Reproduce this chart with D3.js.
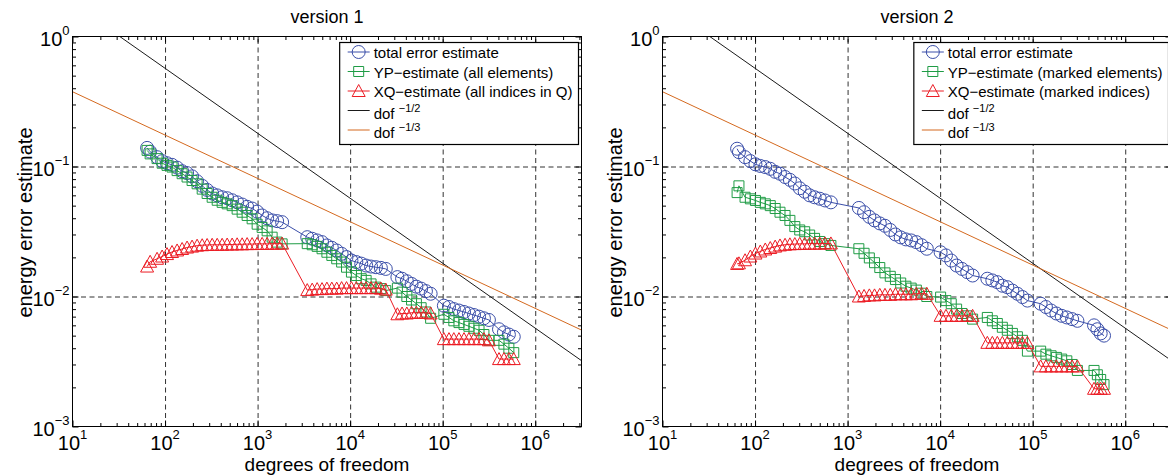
<!DOCTYPE html>
<html>
<head>
<meta charset="utf-8">
<script src="https://cdn.jsdelivr.net/npm/d3@7/dist/d3.min.js"></script>
<style>
  body { margin: 0; background: #fff; }
  svg { display: block; font-family: 'Liberation Sans', Arial, Helvetica, sans-serif; }
</style>
</head>
<body>
<div id="chart"></div>
<script>
// ---- values ----
// version 1
const dof_v1 = [
  64, 69, 82, 93, 105, 119, 135, 153, 173, 196, 222, 252, 285, 323, 366, 414, 469, 531, 601, 681, 771, 873, 989, 1119, 1268, 1436, 1626, 1841,
  3440, 3890, 4400, 4970, 5610, 6340, 7160, 8090, 9140, 10330, 11670, 13180, 14890, 16830, 19010, 21480, 24270,
  32400, 36400, 41000, 46100, 52000, 58500, 65900, 74100,
  103000, 117000, 132000, 150000, 170000, 192000, 218000, 247000, 279000, 316000,
  406000, 459000, 519000, 586000
]
const total_v1 = [
  0.139, 0.130, 0.118, 0.110, 0.106, 0.103, 0.098, 0.092, 0.089, 0.084, 0.077, 0.071, 0.066, 0.062, 0.060, 0.058, 0.057, 0.055, 0.053, 0.051, 0.049, 0.0475, 0.045, 0.042, 0.040, 0.0385, 0.038, 0.0373,
  0.0286, 0.0278, 0.0270, 0.0262, 0.0247, 0.0237, 0.0226, 0.0213, 0.0201, 0.0189, 0.0184, 0.0179, 0.0173, 0.0170, 0.0168, 0.0166, 0.0163,
  0.0141, 0.0137, 0.0131, 0.0125, 0.0119, 0.0115, 0.0110, 0.0105,
  0.0085, 0.0083, 0.0080, 0.0078, 0.0076, 0.0074, 0.0072, 0.0070, 0.0068, 0.0066,
  0.0056, 0.0053, 0.0051, 0.0049
]
const yp_v1 = [
  0.133, 0.125, 0.115, 0.106, 0.102, 0.099, 0.093, 0.088, 0.083, 0.078, 0.0736, 0.067, 0.062, 0.058, 0.055, 0.053, 0.0516, 0.050, 0.047, 0.0445, 0.042, 0.0396, 0.036, 0.034, 0.032, 0.0286, 0.0262, 0.0254,
  0.0255, 0.0250, 0.0243, 0.0233, 0.0219, 0.0207, 0.0195, 0.0184, 0.0168, 0.0154, 0.0145, 0.0137, 0.0133, 0.0125, 0.0118, 0.0115, 0.0111,
  0.0116, 0.0108, 0.0100, 0.0094, 0.0088, 0.0082, 0.0076, 0.0068,
  0.0073, 0.0069, 0.0065, 0.0063, 0.0061, 0.0059, 0.0057, 0.0055, 0.0051, 0.0046,
  0.0046, 0.0043, 0.0040, 0.0037
]
const xq_v1 = [
  0.0170, 0.0185, 0.0195, 0.0203, 0.0212, 0.0220, 0.0226, 0.0232, 0.0238, 0.0242, 0.0246, 0.0248, 0.0249, 0.0250, 0.0250, 0.0250, 0.0251, 0.0251, 0.0252, 0.0252, 0.0253, 0.0253, 0.0254, 0.0254, 0.0254, 0.0255, 0.0255, 0.0255,
  0.0112, 0.0113, 0.0114, 0.0114, 0.0115, 0.0115, 0.0115, 0.0116, 0.0116, 0.0116, 0.0116, 0.0116, 0.0116, 0.0116, 0.0116, 0.0115, 0.0113,
  0.0073, 0.0074, 0.0074, 0.0075, 0.0075, 0.0075, 0.0075, 0.0074,
  0.0047, 0.0047, 0.0047, 0.0047, 0.0047, 0.0047, 0.0047, 0.0047, 0.0047, 0.0046,
  0.0033, 0.0033, 0.0033, 0.0033
]

// version 2
const dof_v2 = [
  64, 67, 78, 89, 101, 114, 129, 146, 165, 186, 211, 238, 269, 304, 344, 389, 440, 500, 570, 660,
  1324, 1507, 1718, 1954, 2228, 2535, 2891, 3289, 3750, 4266, 4864, 5534, 6310, 7178,
  10120, 11560, 13180, 15070, 17220, 19630, 22440,
  32360, 36640, 41500, 46990, 53210, 60390, 68390, 77450, 87700,
  121900, 139000, 158100, 180300, 205600, 233900, 266700, 304100,
  460000, 500000, 543000, 590000
]
const total_v2 = [
  0.137, 0.129, 0.118, 0.110, 0.104, 0.101, 0.099, 0.096, 0.091, 0.088, 0.083, 0.079, 0.074, 0.068, 0.064, 0.060, 0.058, 0.0565, 0.0548, 0.053,
  0.048, 0.0445, 0.041, 0.0385, 0.0365, 0.035, 0.0325, 0.030, 0.0285, 0.0275, 0.027, 0.0262, 0.0248, 0.0233,
  0.0219, 0.0207, 0.0189, 0.0173, 0.0163, 0.0154, 0.0145,
  0.0137, 0.0133, 0.0129, 0.0121, 0.0118, 0.0111, 0.0105, 0.0099, 0.0093,
  0.0088, 0.0083, 0.0078, 0.0074, 0.0071, 0.0069, 0.0067, 0.0065,
  0.0060, 0.0056, 0.0052, 0.0050
]
const yp_v2 = [
  0.063, 0.071, 0.058, 0.0564, 0.0548, 0.053, 0.0516, 0.050, 0.0475, 0.0445, 0.042, 0.0385, 0.0345, 0.0325, 0.0315, 0.0297, 0.028, 0.0265, 0.0255, 0.0247,
  0.0233, 0.0215, 0.0198, 0.0182, 0.0167, 0.0152, 0.0143, 0.0135, 0.0127, 0.0120, 0.0116, 0.0112, 0.0106, 0.0100,
  0.0099, 0.0093, 0.0088, 0.0080, 0.0074, 0.0071, 0.0067,
  0.0069, 0.0065, 0.0062, 0.0058, 0.0055, 0.0052, 0.0049, 0.0046, 0.0038,
  0.0038, 0.0036, 0.0035, 0.0034, 0.0033, 0.0032, 0.0030, 0.0027,
  0.0027, 0.0025, 0.0023, 0.0021
]
const xq_v2 = [
  0.0178, 0.0180, 0.0190, 0.0203, 0.0214, 0.0222, 0.0230, 0.0236, 0.0242, 0.0247, 0.0250, 0.0252, 0.0253, 0.0254, 0.0254, 0.0255, 0.0255, 0.0255, 0.0256, 0.0256,
  0.0100, 0.0101, 0.0102, 0.0102, 0.0103, 0.0103, 0.0103, 0.0104, 0.0104, 0.0104, 0.0104, 0.0105, 0.0105, 0.0105,
  0.0071, 0.0071, 0.0071, 0.0071, 0.0071, 0.0071, 0.0071,
  0.0044, 0.0044, 0.0044, 0.0044, 0.0044, 0.0044, 0.0044, 0.0044, 0.0044,
  0.0029, 0.0029, 0.0029, 0.0029, 0.0029, 0.0029, 0.0029, 0.0029,
  0.00195, 0.00195, 0.00195, 0.00195
]

// reference slopes, end points at the left and right edge of the axes
const ref_half = [[10, 1.80], [3.162e6, 0.00321]]
const ref_third = [[10, 0.376], [3.162e6, 0.00552]]

const x_ticks = [1e1, 1e2, 1e3, 1e4, 1e5, 1e6]
const x_tick_exp = ['1', '2', '3', '4', '5', '6']
const y_ticks = [1e-3, 1e-2, 1e-1, 1e0]
const y_tick_exp = ['\u22123', '\u22122', '\u22121', '0']
const grid_x = [1e2, 1e3, 1e4, 1e5, 1e6]
const grid_y = [1e-2, 1e-1]

const titles = ['version 1', 'version 2']
const legend_v1 = ['total error estimate', 'YP\u2212estimate (all elements)', 'XQ\u2212estimate (all indices in Q)']
const legend_v2 = ['total error estimate', 'YP\u2212estimate (marked elements)', 'XQ\u2212estimate (marked indices)']
const ref_labels = [['dof ', '\u22121/2'], ['dof ', '\u22121/3']]

// ---- layout ----
const W = 1168
const H = 475
const plot = { top: 36, w: 509, h: 390 }
const colors = { total: '#3a4ea9', yp: '#1f9c45', xq: '#ec1c24', half: '#1a1a1a', third: '#d4691f' }

const panels = [
  { left: 72, title: titles[0], dof: dof_v1, total: total_v1, yp: yp_v1, xq: xq_v1, legend: legend_v1 },
  { left: 662, title: titles[1], dof: dof_v2, total: total_v2, yp: yp_v2, xq: xq_v2, legend: legend_v2 }
]

const x = d3.scaleLog().domain([10, 3.162e6]).range([0, plot.w])
const y = d3.scaleLog().domain([1e-3, 1]).range([plot.h, 0])

const minor_x = []
for (let e = 1; e <= 6; e++) {
  for (let m = 2; m <= 9; m++) {
    if (m * 10 ** e < 3.162e6) minor_x.push(m * 10 ** e)
  }
}
const minor_y = []
for (let e = -3; e <= -1; e++) {
  for (let m = 2; m <= 9; m++) minor_y.push(m * 10 ** e)
}

const marker_path = {
  circle: d3.symbol(d3.symbolCircle, Math.PI * 6.5 * 6.5)(),
  square: 'M-5,-5H5V5H-5Z',
  triangle: 'M0,-6.5L6.5,5.5L-6.5,5.5Z'
}

const svg = d3.select('#chart').append('svg')
  .attr('width', W)
  .attr('height', H)
const defs = svg.append('defs')

const line = d3.line().x(d => x(d[0])).y(d => y(d[1]))

function drawSeries(g, dof, vals, color, shape) {
  const pts = dof.map((d, i) => [d, vals[i]])
  g.append('path')
    .datum(pts)
    .attr('d', line)
    .attr('fill', 'none')
    .attr('stroke', color)
    .attr('stroke-width', 1)
  g.append('g').selectAll('path')
    .data(pts)
    .join('path')
    .attr('transform', d => `translate(${ x(d[0]) },${ y(d[1]) })`)
    .attr('d', marker_path[shape])
    .attr('fill', 'none')
    .attr('stroke', color)
    .attr('stroke-width', 1)
}

function ticks(g, axis, tr, values, size) {
  g.append('g')
    .attr('transform', tr)
    .call(axis.tickValues(values).tickSize(size).tickFormat(''))
    .call(s => s.select('.domain').remove())
    .selectAll('line').attr('stroke', '#000')
}

function drawPanel(p, idx) {
  const g = svg.append('g').attr('transform', `translate(${ p.left + 0.5 },${ plot.top + 0.5 })`)

  defs.append('clipPath').attr('id', 'clip' + idx)
    .append('rect').attr('width', plot.w).attr('height', plot.h)

  // dashed grid
  g.append('g')
    .attr('transform', `translate(0,${ plot.h })`)
    .call(d3.axisBottom(x).tickValues(grid_x).tickSize(-plot.h).tickFormat(''))
    .call(s => s.select('.domain').remove())
    .selectAll('line').attr('stroke', '#333').attr('stroke-dasharray', '5,3.5')
  g.append('g')
    .call(d3.axisLeft(y).tickValues(grid_y).tickSize(-plot.w).tickFormat(''))
    .call(s => s.select('.domain').remove())
    .selectAll('line').attr('stroke', '#333').attr('stroke-dasharray', '5,3.5')

  // data
  drawSeries(g, p.dof, p.total, colors.total, 'circle')
  drawSeries(g, p.dof, p.yp, colors.yp, 'square')
  drawSeries(g, p.dof, p.xq, colors.xq, 'triangle')

  const refs = g.append('g').attr('clip-path', `url(#clip${ idx })`)
  refs.append('path').datum(ref_half).attr('d', line)
    .attr('fill', 'none').attr('stroke', colors.half).attr('stroke-width', 1)
  refs.append('path').datum(ref_third).attr('d', line)
    .attr('fill', 'none').attr('stroke', colors.third).attr('stroke-width', 1)

  // box and inward ticks on every side
  g.append('rect').attr('width', plot.w).attr('height', plot.h)
    .attr('fill', 'none').attr('stroke', '#000').attr('stroke-width', 1)
  ticks(g, d3.axisBottom(x), `translate(0,${ plot.h })`, x_ticks, -6)
  ticks(g, d3.axisBottom(x), `translate(0,${ plot.h })`, minor_x, -3.5)
  ticks(g, d3.axisTop(x), 'translate(0,0)', x_ticks, -6)
  ticks(g, d3.axisTop(x), 'translate(0,0)', minor_x, -3.5)
  ticks(g, d3.axisLeft(y), 'translate(0,0)', y_ticks, -6)
  ticks(g, d3.axisLeft(y), 'translate(0,0)', minor_y, -3.5)
  ticks(g, d3.axisRight(y), `translate(${ plot.w },0)`, y_ticks, -6)
  ticks(g, d3.axisRight(y), `translate(${ plot.w },0)`, minor_y, -3.5)

  // tick labels 10^n
  const xl = g.append('g').selectAll('text')
    .data(x_ticks.map((v, i) => ({ v, e: x_tick_exp[i] })))
    .join('text')
    .attr('x', d => x(d.v))
    .attr('y', plot.h + 23)
    .attr('text-anchor', 'middle')
    .attr('fill', '#000')
  xl.append('tspan').attr('font-size', 20).text('10')
  xl.append('tspan').attr('font-size', 13).attr('dy', -11).text(d => d.e)

  const yl = g.append('g').selectAll('text')
    .data(y_ticks.map((v, i) => ({ v, e: y_tick_exp[i] })))
    .join('text')
    .attr('x', -3)
    .attr('y', d => y(d.v) + 9)
    .attr('text-anchor', 'end')
    .attr('fill', '#000')
  yl.append('tspan').attr('font-size', 20).text('10')
  yl.append('tspan').attr('font-size', 13).attr('dy', -11).text(d => d.e)

  // titles
  g.append('text').attr('x', plot.w / 2).attr('y', -14)
    .attr('text-anchor', 'middle').attr('font-size', 18).text(p.title)
  g.append('text').attr('x', plot.w / 2).attr('y', plot.h + 44)
    .attr('text-anchor', 'middle').attr('font-size', 19).text('degrees of freedom')
  g.append('text')
    .attr('transform', `translate(-41,${ plot.h / 2 - 9 }) rotate(-90)`)
    .attr('text-anchor', 'middle').attr('font-size', 20).text('energy error estimate')

  drawLegend(g, p.legend)
}

function drawLegend(g, labels) {
  const rows = [15.5, 35, 54.5, 74, 93.5]
  const entries = [
    { text: labels[0], color: colors.total, shape: 'circle' },
    { text: labels[1], color: colors.yp, shape: 'square' },
    { text: labels[2], color: colors.xq, shape: 'triangle' },
    { text: ref_labels[0][0], sup: ref_labels[0][1], color: colors.half },
    { text: ref_labels[1][0], sup: ref_labels[1][1], color: colors.third }
  ]
  const lg = g.append('g')
  const box = lg.append('rect')
    .attr('y', 6).attr('height', 102)
    .attr('fill', '#fff').attr('stroke', '#000').attr('stroke-width', 1.2)

  let max_w = 0
  entries.forEach((d, i) => {
    const cy = rows[i]
    lg.append('line')
      .attr('x1', 8).attr('x2', 30).attr('y1', cy).attr('y2', cy)
      .attr('stroke', d.color).attr('stroke-width', 1)
    if (d.shape) {
      lg.append('path').attr('transform', `translate(19,${ cy })`)
        .attr('d', marker_path[d.shape])
        .attr('fill', 'none').attr('stroke', d.color).attr('stroke-width', 1)
    }
    const t = lg.append('text').attr('x', 34).attr('font-size', 15).attr('fill', '#000')
    if (d.sup) {
      t.attr('y', cy + 8)
      t.append('tspan').text(d.text)
      t.append('tspan').attr('font-size', 11).attr('dy', -7).text(d.sup)
    } else {
      t.attr('y', cy + 6).text(d.text)
    }
    max_w = Math.max(max_w, t.node().getComputedTextLength())
  })
  const bw = 34 + max_w + 6
  box.attr('width', bw)
  lg.attr('transform', `translate(${ plot.w - 3 - bw },0)`)
}

panels.forEach(drawPanel)
</script>
</body>
</html>
